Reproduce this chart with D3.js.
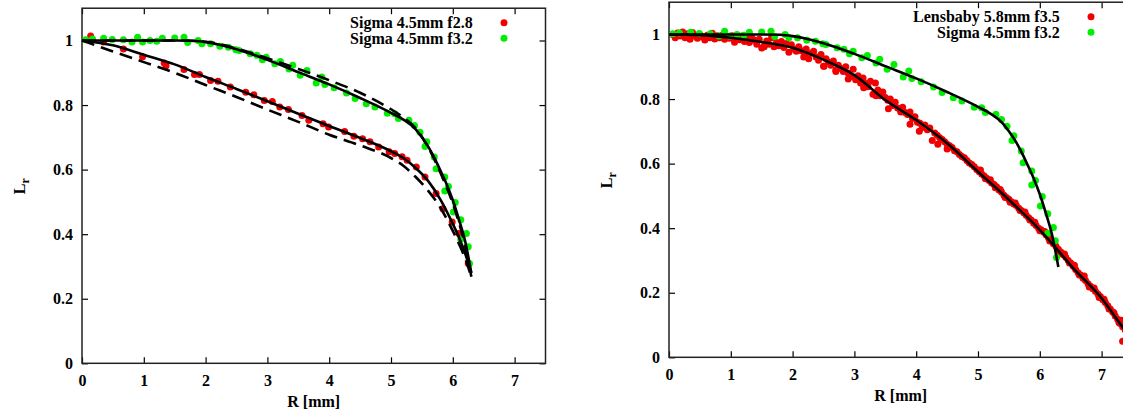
<!DOCTYPE html>
<html><head><meta charset="utf-8">
<script src="https://cdn.jsdelivr.net/npm/d3@7"></script>
<style>
html,body{margin:0;padding:0;background:#fff;}
svg text{font-family:"Liberation Serif","Times New Roman",serif;font-weight:bold;font-size:16px;fill:#000;}
</style></head>
<body><svg id="c" width="1123" height="414"></svg>
<script>
// ---------- data ----------
const xTicks = [0,1,2,3,4,5,6,7];
const yTicks = [0,0.2,0.4,0.6,0.8,1];

const legendLeft = ["Sigma 4.5mm f2.8","Sigma 4.5mm f3.2"];
const legendRight = ["Lensbaby 5.8mm f3.5","Sigma 4.5mm f3.2"];

// Sigma 4.5mm f2.8 measured points [R, Lr]
const sigma28 = [[0.14,1.014],[0.35,0.995],[0.67,0.974],[0.98,0.95],[1.33,0.93],[1.36,0.922],[1.65,0.91],[1.82,0.895],[1.9,0.895],
 [2.08,0.876],[2.2,0.874],[2.4,0.856],[2.65,0.84],[2.78,0.832],[2.95,0.814],[3.08,0.811],[3.2,0.794],[3.34,0.786],[3.56,0.768],
 [3.67,0.753],[3.9,0.742],[3.99,0.732],[4.25,0.718],[4.4,0.703],[4.54,0.696],[4.66,0.686],[4.8,0.67],[4.97,0.655],[5.06,0.65],
 [5.18,0.64],[5.26,0.629],[5.41,0.608],[5.55,0.577],[5.73,0.526],[5.84,0.479],[5.99,0.438],[6.1,0.402],[6.19,0.353],[6.25,0.309]];

// Sigma 4.5mm f3.2 measured points [R, Lr]
const sigma32 = [[0.06,1.002],[0.17,1.005],[0.35,1.007],[0.49,1.003],[0.67,1.002],[0.81,0.995],[0.9,1.01],[0.98,0.995],[1.1,1.0],
 [1.21,0.998],[1.3,1.007],[1.5,1.008],[1.65,1.01],[1.71,0.994],[1.88,1.0],[1.94,0.99],[2.08,0.99],[2.23,0.982],[2.37,0.979],
 [2.49,0.971],[2.54,0.969],[2.72,0.959],[2.83,0.954],[2.92,0.94],[2.98,0.948],[3.12,0.928],[3.21,0.935],[3.35,0.912],[3.41,0.923],
 [3.53,0.892],[3.64,0.907],[3.79,0.868],[3.88,0.887],[3.93,0.864],[4.08,0.854],[4.28,0.837],[4.42,0.82],[4.6,0.804],[4.74,0.794],
 [4.94,0.775],[5.06,0.773],[5.12,0.758],[5.29,0.753],[5.38,0.737],[5.47,0.716],[5.55,0.672],[5.58,0.686],[5.7,0.639],[5.73,0.603],
 [5.87,0.577],[5.87,0.534],[5.93,0.548],[6.01,0.469],[6.04,0.498],[6.13,0.445],[6.13,0.384],[6.22,0.402],[6.25,0.361],[6.27,0.309]];

// Lensbaby 5.8mm f3.5 measured points [R, Lr]
const lensbaby = [[0.06,1.0],[0.1,0.99],[0.14,1.005],[0.18,0.995],[0.22,1.008],[0.26,0.99],[0.3,1.002],[0.34,0.985],[0.38,1.006],
 [0.42,0.995],[0.46,0.988],[0.5,1.0],[0.54,0.992],[0.58,0.983],[0.62,0.998],[0.66,0.99],[0.7,1.004],[0.74,0.986],[0.78,0.996],
 [0.82,0.99],[0.86,0.998],[0.9,0.985],[0.94,0.993],[0.98,0.988],[1.02,0.996],[1.06,0.976],[1.1,0.99],[1.14,0.984],[1.18,0.995],
 [1.22,0.978],[1.26,0.988],[1.3,0.975],[1.34,0.99],[1.38,0.982],[1.42,0.97],[1.46,0.985],[1.5,0.958],[1.54,0.962],[1.58,0.98],
 [1.62,0.97],[1.66,0.99],[1.7,0.962],[1.74,0.975],[1.78,0.965],[1.82,0.978],[1.86,0.96],[1.9,0.972],[1.94,0.945],[1.98,0.968],
 [2.02,0.955],[2.06,0.948],[2.1,0.962],[2.14,0.95],[2.18,0.93],[2.22,0.955],[2.26,0.925],[2.3,0.942],[2.34,0.948],[2.38,0.93],
 [2.42,0.92],[2.46,0.938],[2.5,0.902],[2.54,0.925],[2.58,0.915],[2.62,0.905],[2.66,0.918],[2.7,0.89],[2.74,0.905],[2.78,0.895],
 [2.82,0.885],[2.86,0.9],[2.9,0.88],[2.94,0.87],[2.98,0.892],[3.02,0.86],[3.06,0.872],[3.1,0.85],[3.14,0.865],[3.18,0.848],
 [3.22,0.838],[3.26,0.855],[3.3,0.815],[3.34,0.85],[3.38,0.828],[3.42,0.81],[3.46,0.822],[3.5,0.805],[3.54,0.796],[3.58,0.8],
 [3.62,0.78],[3.66,0.79],[3.7,0.772],[3.74,0.768],[3.78,0.775],[3.82,0.758],[3.86,0.752],[3.9,0.76],[3.94,0.74],[3.98,0.745],
 [4.02,0.728],[4.06,0.725],[4.1,0.712],[4.14,0.72],[4.18,0.705],[4.22,0.71],[4.26,0.672],[4.3,0.695],[4.34,0.688],[4.38,0.68],
 [4.42,0.675],[4.46,0.668],[4.5,0.66],[4.54,0.655],[4.58,0.65],[4.62,0.64],[4.66,0.637],[4.7,0.628],[4.74,0.622],[4.78,0.618],
 [4.82,0.61],[4.86,0.602],[4.9,0.597],[4.94,0.59],[4.98,0.582],[5.02,0.575],[5.06,0.568],[5.1,0.562],[5.14,0.555],[5.18,0.548],
 [5.22,0.54],[5.26,0.535],[5.3,0.528],[5.34,0.518],[5.38,0.512],[5.42,0.502],[5.46,0.495],[5.5,0.49],[5.54,0.482],[5.58,0.475],
 [5.62,0.47],[5.66,0.462],[5.7,0.455],[5.74,0.448],[5.78,0.44],[5.82,0.432],[5.86,0.425],[5.9,0.415],[5.94,0.408],[5.98,0.4],
 [6.02,0.395],[6.06,0.388],[6.1,0.38],[6.14,0.37],[6.18,0.362],[6.22,0.352],[6.26,0.345],[6.3,0.335],[6.34,0.326],[6.38,0.318],
 [6.42,0.31],[6.46,0.3],[6.5,0.292],[6.54,0.282],[6.58,0.272],[6.62,0.262],[6.66,0.255],[6.7,0.245],[6.74,0.238],[6.78,0.228],
 [6.82,0.22],[6.86,0.212],[6.9,0.205],[6.94,0.196],[6.98,0.188],[7.02,0.178],[7.06,0.17],[7.1,0.16],[7.14,0.15],[7.18,0.14],
 [7.22,0.128],[7.26,0.118],[7.3,0.105],[7.34,0.095],[7.38,0.085],[7.34,0.05],[7.4,0.05],
 [5.04,0.58],[5.12,0.553],[5.2,0.55],[5.28,0.525],[5.36,0.52],[5.44,0.495],[5.52,0.48],[5.6,0.478],[5.68,0.455],[5.76,0.45],
 [5.84,0.425],[5.92,0.418],[6.0,0.392],[6.08,0.39],[6.16,0.36],[6.24,0.355],[6.32,0.322],[6.4,0.32],[6.48,0.292],[6.56,0.285],
 [6.64,0.255],[6.72,0.252],[6.8,0.218],[6.88,0.215],[6.96,0.185],[7.04,0.18],[7.12,0.15],[7.2,0.138],[7.28,0.108],[7.32,0.115],
 [2.51,0.902],[2.7,0.885],[3.35,0.81],[3.55,0.77],[3.75,0.76],[3.9,0.722],[4.05,0.70],[4.35,0.66],[4.5,0.645],[2.2,0.94],
 [1.55,0.968],[2.9,0.862],[3.15,0.835]];

// model curves [R, Lr]
const fit28 = [[0,1],[0.5,0.985],[1,0.956],[1.5,0.926],[2,0.887],[2.5,0.85],[3,0.812],[3.5,0.773],[4,0.735],[4.5,0.698],[5,0.657],
 [5.2,0.636],[5.4,0.605],[5.6,0.565],[5.8,0.507],[6.0,0.432],[6.1,0.39],[6.2,0.34],[6.3,0.28]];
const dash28 = [[0,1],[0.5,0.966],[1,0.933],[1.5,0.9],[2,0.862],[2.5,0.825],[3,0.786],[3.5,0.748],[4,0.708],[4.5,0.675],[5,0.636],
 [5.2,0.612],[5.4,0.577],[5.6,0.535],[5.8,0.482],[6.0,0.41],[6.1,0.37],[6.2,0.325],[6.3,0.268]];
const fit32 = [[0,1],[0.5,1.0],[1,1.0],[1.5,1.0],[1.8,0.999],[2,0.995],[2.5,0.973],[3,0.94],[3.5,0.902],[4,0.864],[4.5,0.822],
 [5,0.776],[5.2,0.755],[5.4,0.725],[5.5,0.7],[5.6,0.672],[5.7,0.637],[5.8,0.597],[5.9,0.555],[6.0,0.505],[6.1,0.445],[6.2,0.378],[6.3,0.28]];
const dash32 = [[0,1],[0.5,1.0],[1,1.0],[1.5,1.0],[2,0.996],[2.5,0.975],[3,0.945],[3.5,0.912],[4,0.877],[4.5,0.838],[5,0.787],
 [5.2,0.762],[5.4,0.728],[5.6,0.67],[5.8,0.59],[6.0,0.495],[6.1,0.435],[6.2,0.365],[6.3,0.268]];
const fitLens = [[0,1],[0.5,0.998],[1,0.99],[1.5,0.977],[2,0.959],[2.5,0.922],[3,0.874],[3.5,0.797],[4,0.735],[4.5,0.663],
 [5,0.575],[5.5,0.488],[6,0.395],[6.3,0.33],[6.5,0.285],[7,0.183],[7.35,0.091],[7.5,0.055]];

// ---------- drawing ----------
const svg = d3.select("#c");
const RED = "#f00000", GREEN = "#00ef00";

function panel(opt){
  const x = d3.scaleLinear().domain([0,7.5]).range([opt.left, opt.left + 61.8*7.5]);
  const y = d3.scaleLinear().domain([0,1.1]).range([opt.bottom, opt.bottom - 322.8*1.1]);
  const g = svg.append("g");
  const fmt = d3.format("~g");

  const ax = g.append("g").attr("transform",`translate(0,${opt.bottom})`)
    .call(d3.axisBottom(x).tickValues(xTicks).tickFormat(fmt).tickSizeInner(-6).tickSizeOuter(0).tickPadding(11));
  const ay = g.append("g").attr("transform",`translate(${opt.left},0)`)
    .call(d3.axisLeft(y).tickValues(yTicks).tickFormat(fmt).tickSizeInner(-6).tickSizeOuter(0).tickPadding(9));
  const at = g.append("g").attr("transform",`translate(0,${y(1.1)})`)
    .call(d3.axisTop(x).tickValues(xTicks).tickFormat("").tickSizeInner(-6).tickSizeOuter(0));
  const ar = g.append("g").attr("transform",`translate(${x(7.5)},0)`)
    .call(d3.axisRight(y).tickValues(yTicks).tickFormat("").tickSizeInner(-6).tickSizeOuter(0));
  [ax,ay,at,ar].forEach(a=>{
    a.select(".domain").remove();
    a.selectAll("line").attr("stroke","#000").attr("stroke-width",1.2);
    a.selectAll("text").attr("font-family",null).attr("font-size",null).style("font-size","16px");
  });

  g.append("rect").attr("x",x(0)).attr("y",y(1.1)).attr("width",x(7.5)-x(0)).attr("height",y(0)-y(1.1))
    .attr("fill","none").attr("stroke","#222").attr("stroke-width",1.5);

  g.append("text").attr("x",(x(0)+x(7.5))/2).attr("y",opt.bottom+44).attr("text-anchor","middle").text("R [mm]");
  const yl = g.append("text").attr("transform",`translate(${opt.left-57},${y(1.1)+178}) rotate(-90)`).attr("text-anchor","middle");
  yl.append("tspan").text("L");
  yl.append("tspan").attr("dy",4).style("font-size","12px").text("r");

  opt.points.forEach(p=>{
    g.append("g").selectAll("circle").data(p.data).join("circle")
      .attr("cx",d=>x(d[0])).attr("cy",d=>y(d[1])).attr("r",3.5).attr("fill",p.color);
  });

  const line = d3.line().x(d=>x(d[0])).y(d=>y(d[1])).curve(d3.curveMonotoneX);
  opt.lines.forEach(l=>{
    g.append("path").attr("d",line(l.data)).attr("fill","none").attr("stroke","#000")
      .attr("stroke-width",2.6).attr("stroke-dasharray",l.dash ? "13,7" : null);
  });

  opt.legend.forEach((t,i)=>{
    const yy = y(1.1) + 14.5 + i*15.5;
    g.append("text").attr("x",opt.left+390.7).attr("y",yy).attr("dy","0.35em").attr("text-anchor","end").text(t);
    g.append("circle").attr("cx",opt.left+422).attr("cy",yy).attr("r",3.5).attr("fill",opt.points[i].color);
  });
}

panel({left:82, bottom:363.3, legend:legendLeft,
  points:[{data:sigma28,color:RED},{data:sigma32,color:GREEN}],
  lines:[{data:dash28,dash:true},{data:dash32,dash:true},{data:fit28},{data:fit32}]});
panel({left:669, bottom:357.3, legend:legendRight,
  points:[{data:lensbaby,color:RED},{data:sigma32,color:GREEN}],
  lines:[{data:fitLens},{data:fit32}]});
</script></body></html>
